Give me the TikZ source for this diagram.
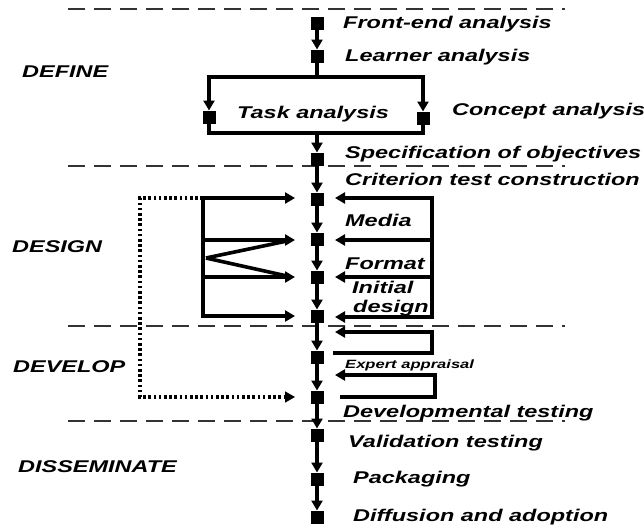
\documentclass[tikz,border=0pt]{standalone}
\usepackage{fontspec}
\setmainfont{Liberation Sans}[FakeStretch=1.38]
\usetikzlibrary{arrows.meta,calc}
\begin{document}
\begin{tikzpicture}[x=1pt,y=-1pt,
  sq/.style={fill=black,minimum size=13pt,inner sep=0pt,outer sep=0pt},
  lbl/.style={anchor=base west,inner sep=0pt,font=\fontsize{17}{20}\selectfont\bfseries\itshape},
  small/.style={anchor=base west,inner sep=0pt,font=\fontsize{12}{14}\selectfont\bfseries\itshape},
  flow/.style={line width=3.6pt,-{Triangle[length=10pt,width=11pt]}},
  ln/.style={line width=3.6pt},
  sep/.style={line width=1.6pt,dash pattern=on 17pt off 9pt,black!80},
  dots/.style={line width=3.6pt,dash pattern=on 2.6pt off 2.6pt}]
\useasboundingbox (0,0) rectangle (644,528);

% phase separators
\coordinate (sepA1) at (68,9);   \coordinate (sepA2) at (565,9);
\coordinate (sepB1) at (68,166); \coordinate (sepB2) at (565,166);
\coordinate (sepC1) at (68,326); \coordinate (sepC2) at (565,326);
\coordinate (sepD1) at (68,421); \coordinate (sepD2) at (565,421);
\draw[sep] (sepA1) -- (sepA2);
\draw[sep] (sepB1) -- (sepB2);
\draw[sep] (sepC1) -- (sepC2);
\draw[sep] (sepD1) -- (sepD2);

% squares
\node[sq] (s1) at (317,23) {};
\node[sq] (s2) at (317,56) {};
\node[sq] (tl) at (209,117) {};
\node[sq] (tr) at (423,118) {};
\node[sq] (s3) at (317,159) {};
\node[sq] (c1) at (317,199) {};
\node[sq] (c2) at (317,239) {};
\node[sq] (c3) at (317,277) {};
\node[sq] (c4) at (317,316) {};
\node[sq] (d1) at (317,357) {};
\node[sq] (d2) at (317,397) {};
\node[sq] (v1) at (317,435) {};
\node[sq] (v2) at (317,479) {};
\node[sq] (v3) at (317,517) {};

% define section
\draw[flow] (s1) -- (s2);
\coordinate (barT) at (317,77);
\coordinate (barTL) at (209,77);
\coordinate (barTR) at (423,77);
\coordinate (barB) at (317,133);
\coordinate (barBL) at (209,133);
\coordinate (barBR) at (423,133);
\draw[ln] (s2) -- (barT);
\draw[ln,line cap=rect] (barTL) -- (barTR);
\draw[flow] (barTL) -- (tl);
\draw[flow] (barTR) -- (tr);
\draw[ln,line join=miter] (tl) -- (barBL) -- (barBR) -- (tr);
\draw[flow] (barB) -- (s3);
\draw[flow] (s3) -- (c1);
\draw[flow] (c1) -- (c2);
\draw[flow] (c2) -- (c3);
\draw[flow] (c3) -- (c4);
\draw[flow] (c4) -- (d1);
\draw[flow] (d1) -- (d2);
\draw[flow] (d2) -- (v1);
\draw[flow] (v1) -- (v2);
\draw[flow] (v2) -- (v3);

% design: left bracket
\coordinate (L1) at (203,198);
\coordinate (L2) at (203,240);
\coordinate (L3) at (203,277);
\coordinate (L4) at (203,316);
\coordinate (LV) at (206,258);
\coordinate (tip1) at (295,198);
\coordinate (tip2) at (295,240);
\coordinate (tip3) at (295,277);
\coordinate (tip4) at (295,316);
\draw[ln,line cap=rect] (L1) -- (L4);
\draw[flow] (L1) -- (tip1);
\draw[flow] (L2) -- (tip2);
\draw[flow] (L3) -- (tip3);
\draw[flow] (L4) -- (tip4);
\draw[ln] (LV) -- ($(tip2)+(-8,1)$);
\draw[ln] (LV) -- ($(tip3)+(-8,-1)$);

% design: right bracket
\coordinate (R1) at (432,198);
\coordinate (R2) at (432,240);
\coordinate (R3) at (432,277);
\coordinate (R4) at (432,317);
\coordinate (rt1) at (335,198);
\coordinate (rt2) at (335,240);
\coordinate (rt3) at (335,277);
\coordinate (rt4) at (335,317);
\draw[ln,line cap=rect] (R1) -- (R4);
\draw[flow] (R1) -- (rt1);
\draw[flow] (R2) -- (rt2);
\draw[flow] (R3) -- (rt3);
\draw[flow] (R4) -- (rt4);

% develop loops
\coordinate (la) at (333,353);
\coordinate (lb) at (432,353);
\coordinate (lc) at (432,332);
\coordinate (ld) at (335,332);
\draw[flow,line join=miter] (la) -- (lb) -- (lc) -- (ld);
\coordinate (ma) at (340,397);
\coordinate (mb) at (435,397);
\coordinate (mc) at (435,375);
\coordinate (md) at (335,375);
\draw[flow,line join=miter] (ma) -- (mb) -- (mc) -- (md);

% dotted feedback
\coordinate (dA) at (140,198);
\coordinate (dB) at (140,397);
\coordinate (dC) at (295,397);
\draw[dots] (L1) -- (dA) -- (dB) -- ($(dC)+(-6,0)$);
\draw[line width=1.5pt,-{Triangle[length=10pt,width=11pt]}] ($(dC)+(-3,0)$) -- (dC);

% labels
\node[lbl] (t1) at (343,28) {Front-end analysis};
\node[lbl] (t2) at (345,61) {Learner analysis};
\node[lbl] (t3) at (237,118) {Task analysis};
\node[lbl] (t4) at (452,115) {Concept analysis};
\node[lbl] (t5) at (345,158) {Specification of objectives};
\node[lbl] (t6) at (345,185) {Criterion test construction};
\node[lbl] (t7) at (345,226) {Media};
\node[lbl] (t8) at (345,269) {Format};
\node[lbl] (t9) at (352,293) {Initial};
\node[lbl] (t10) at (353,312) {design};
\node[small] (t11) at (345,368) {Expert appraisal};
\node[lbl] (t12) at (343,417) {Developmental testing};
\node[lbl] (t13) at (348,447) {Validation testing};
\node[lbl] (t14) at (353,483) {Packaging};
\node[lbl] (t15) at (353,521) {Diffusion and adoption};

\node[lbl] (p1) at (22,77) {DEFINE};
\node[lbl] (p2) at (12,252) {DESIGN};
\node[lbl] (p3) at (13,372) {DEVELOP};
\node[lbl] (p4) at (18,472) {DISSEMINATE};
\end{tikzpicture}
\end{document}
